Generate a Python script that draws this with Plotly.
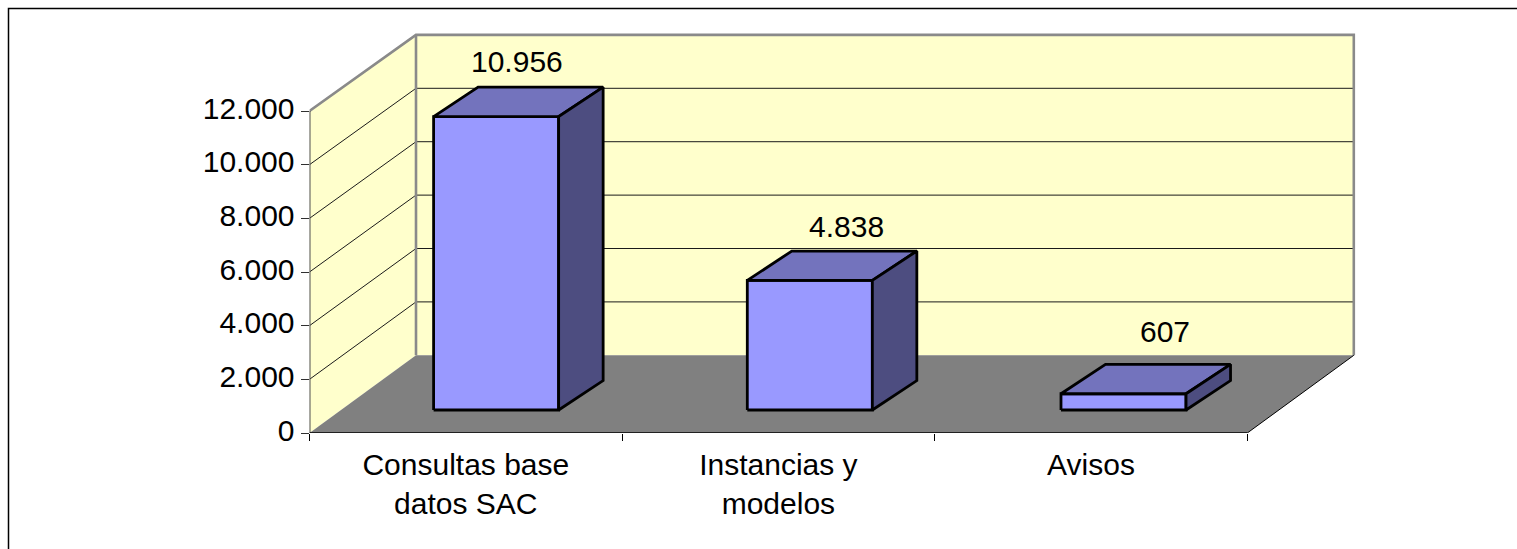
import plotly.graph_objects as go

# ---- data ----
categories = ["Consultas base<br>datos SAC", "Instancias y<br>modelos", "Avisos"]
values = [10956, 4838, 607]
y_ticks = [0, 2000, 4000, 6000, 8000, 10000, 12000]

# ---- frame geometry ----
W, H = 1517, 549
LEFT, RIGHT, BOTTOM, TOP = 309.5, 1356, 433, 33
PX_CAT = 312.6
PX_VAL = 322 / 12000

WALL_DX = 106.5 / PX_CAT
WALL_DY = 77.7 / PX_VAL
FAR = 0.995          # back wall is drawn slightly smaller than the front edge
BAR_SCALE = 0.998
BAR_START = 0.397
BAR_STEP = 1.0035
BAR_W = 0.40
BAR_FRONT_Y = 23 / PX_VAL
BAR_DX = 44.5 / PX_CAT
BAR_DY = 29.4 / PX_VAL
N = len(categories)
VMAX = y_ticks[-1]

WALL, FLOOR, EDGE = "#FFFFCC", "#808080", "#8A8A8A"
FRONT, TOPC, SIDE = "#9999FF", "#7373BD", "#4D4D80"
FS = 30
FONT = "Liberation Sans, Arial, sans-serif"
LABEL_SHIFT = [(-24, 25.5), (-8, 25), (-3, 33)]

fig = go.Figure()


def poly(xs, ys, fill=None, color=None, width=0):
    fig.add_trace(go.Scatter(
        x=xs, y=ys, mode="lines", cliponaxis=False, hoverinfo="skip", showlegend=False,
        fill="toself" if fill else "none", fillcolor=fill,
        line=dict(color=color or "rgba(0,0,0,0)", width=width, simplify=False),
    ))


back_top = VMAX * FAR + WALL_DY

# walls and floor
poly([0, 0, WALL_DX, WALL_DX, 0], [0, VMAX, back_top, WALL_DY, 0], WALL)
poly([WALL_DX, N + WALL_DX, N + WALL_DX, WALL_DX, WALL_DX],
     [WALL_DY, WALL_DY, back_top, back_top, WALL_DY], WALL)

# gridlines
for v in y_ticks[1:-1]:
    poly([0, WALL_DX, N + WALL_DX], [v, v * FAR + WALL_DY, v * FAR + WALL_DY], None, "#1a1a1a", 1)

# wall edges
poly([0, WALL_DX, N + WALL_DX, N + WALL_DX], [VMAX, back_top, back_top, WALL_DY], None, EDGE, 2.6)
poly([WALL_DX, WALL_DX], [WALL_DY, back_top], None, EDGE, 2.6)

# floor
poly([0, N, N + WALL_DX, WALL_DX, 0], [0, 0, WALL_DY, WALL_DY, 0], FLOOR)
poly([0, 0], [0, VMAX], None, "#505050", 2)
poly([0, N], [0, 0], None, "#000000", 1.5)
poly([N, N + WALL_DX], [0, WALL_DY], None, "#000000", 1)

# bars
for i, v in enumerate(values):
    x0 = i * BAR_STEP + BAR_START
    x1 = x0 + BAR_W
    y0 = BAR_FRONT_Y
    y1 = y0 + v * BAR_SCALE
    poly([x0, x1, x1, x0, x0], [y0, y0, y1, y1, y0], FRONT, "#000000", 2.8)
    poly([x0, x1, x1 + BAR_DX, x0 + BAR_DX, x0],
         [y1, y1, y1 + BAR_DY, y1 + BAR_DY, y1], TOPC, "#000000", 2.8)
    poly([x1, x1 + BAR_DX, x1 + BAR_DX, x1, x1],
         [y0, y0 + BAR_DY, y1 + BAR_DY, y1, y0], SIDE, "#000000", 2.8)
    dx, dy = LABEL_SHIFT[i]
    fig.add_annotation(
        x=x0 + BAR_W / 2 + BAR_DX, y=y1 + BAR_DY, xref="x", yref="y",
        text=f"{v:,}".replace(",", "."), showarrow=False,
        xanchor="center", yanchor="middle", xshift=dx, yshift=dy,
        font=dict(size=FS, color="#000000", family=FONT),
    )

fig.update_layout(
    width=W, height=H, autosize=False,
    margin=dict(l=0, r=0, t=0, b=0),
    paper_bgcolor="#FFFFFF", plot_bgcolor="rgba(0,0,0,0)",
    separators=",.", showlegend=False,
    font=dict(family=FONT, size=FS, color="#000000"),
    xaxis=dict(
        domain=[LEFT / W, RIGHT / W],
        range=[0, (RIGHT - LEFT) / PX_CAT],
        tickmode="array", tickvals=[i + 0.5 for i in range(N)], ticktext=categories,
        ticks="outside", ticklen=5, tickcolor="rgba(0,0,0,0)", tickwidth=1,
        showgrid=False, zeroline=False, showline=False, fixedrange=True,
        minor=dict(tickmode="array", tickvals=list(range(N + 1)), ticks="outside",
                   ticklen=7, tickcolor="#000000", tickwidth=1, showgrid=False),
        automargin=False,
    ),
    yaxis=dict(
        domain=[(H - BOTTOM) / H, (H - TOP) / H],
        range=[0, (BOTTOM - TOP) / PX_VAL],
        tickmode="array", tickvals=y_ticks, tickformat=",d",
        ticks="outside", ticklen=8, tickcolor="#303030", tickwidth=1,
        ticklabelshift=-3,
        showgrid=False, zeroline=False, showline=False, fixedrange=True,
        automargin=False,
    ),
    shapes=[dict(type="rect", xref="paper", yref="paper",
                 x0=8.5 / W, x1=1.01, y0=-0.01, y1=(H - 8.5) / H,
                 line=dict(color="#000000", width=1.5), fillcolor="rgba(0,0,0,0)", layer="below")],
)

fig.write_html("out.html", config={"displayModeBar": False},
               post_script="document.body.style.margin='0';document.body.style.overflow='hidden';")
